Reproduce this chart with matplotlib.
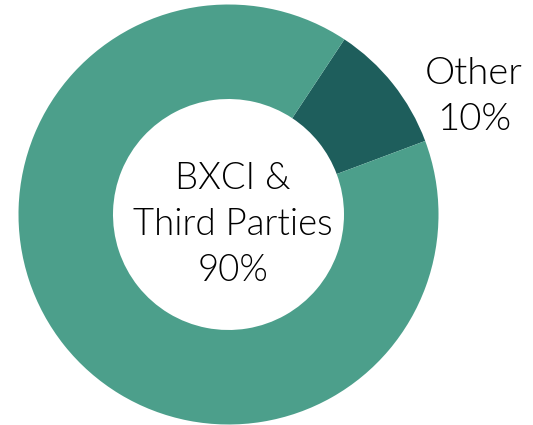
import matplotlib
matplotlib.use("Agg")
import matplotlib.pyplot as plt

labels = ["BXCI &\nThird Parties\n90%", "Other\n10%"]
shares = [90, 10]
colors = ["#4C9F8B", "#1E5E5C"]

W, H = 533, 425
fig = plt.figure(figsize=(W / 100, H / 100), dpi=100)
ax = fig.add_axes([0, 0, 1, 1])

# positions in pixels from top-left, converted to y-up
cx, cy, r = 228.5, H - 214.5, 210.0
# Other slice spans ~20..56 deg; draw Other first clockwise from 56 deg
ax.pie(
    shares[::-1], colors=colors[::-1], startangle=56.5, counterclock=False,
    radius=r, center=(cx, cy), wedgeprops=dict(width=r * 0.45, linewidth=0),
    frame=True,
)
ax.set_xlim(0, W)
ax.set_ylim(0, H)
ax.set_aspect("equal")
ax.axis("off")

font = dict(family=["Lato", "DejaVu Sans"], fontweight=300, color="black")
ax.text(233, H - 225, labels[0], ha="center", va="center", fontsize=26.3,
        linespacing=1.43, **font)
ax.text(474, H - 97, labels[1], ha="center", va="center", fontsize=27.5,
        linespacing=1.45, **font)

fig.savefig("out.png", dpi=100)
